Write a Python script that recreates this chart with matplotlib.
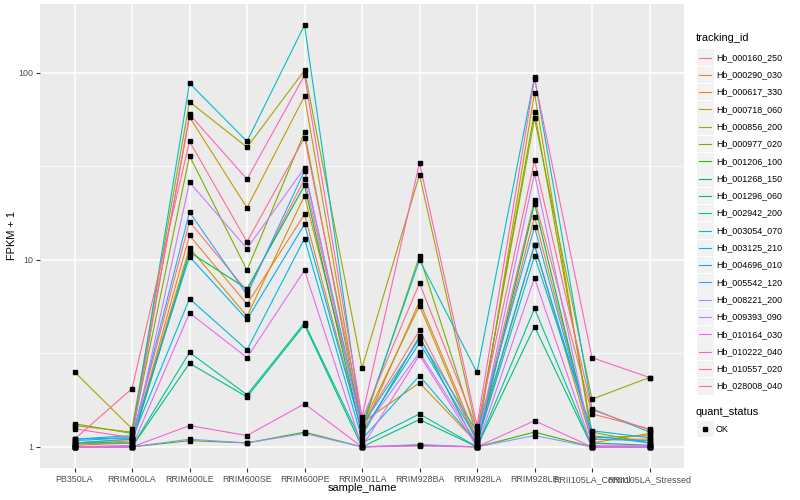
import numpy as np
import matplotlib
matplotlib.use("Agg")
import matplotlib.pyplot as plt
from matplotlib.lines import Line2D
from matplotlib.patches import Rectangle

plt.rcParams['font.family'] = ['Liberation Sans', 'DejaVu Sans']

samples = ["PB350LA", "RRIM600LA", "RRIM600LE", "RRIM600SE", "RRIM600PE",
           "RRIM901LA", "RRIM928BA", "RRIM928LA", "RRIM928LE",
           "RRII105LA_Control", "RRII105LA_Stressed"]

tracking_ids = ["Hb_000160_250", "Hb_000290_030", "Hb_000617_330", "Hb_000718_060",
                "Hb_000856_200", "Hb_000977_020", "Hb_001206_100", "Hb_001268_150",
                "Hb_001296_060", "Hb_002942_200", "Hb_003054_070", "Hb_003125_210",
                "Hb_004696_010", "Hb_005542_120", "Hb_008221_200", "Hb_009393_090",
                "Hb_010164_030", "Hb_010222_040", "Hb_010557_020", "Hb_028008_040"]

colors = ["#F8766D", "#EA8331", "#D89000", "#C09B00", "#A3A500", "#7CAE00", "#39B600",
          "#00BB4E", "#00BF7D", "#00C1A3", "#00BFC4", "#00BAE0", "#00B0F6", "#35A2FF",
          "#9590FF", "#C77CFF", "#E76BF3", "#FA62DB", "#FF62BC", "#FF6C91"]

# FPKM + 1 values, one list per tracking_id (order of samples above)
hb_000160_250 = [1.05, 1.10, 16.0, 6.8, 27.0, 1.30, 4.2, 1.10, 21.0, 1.50, 1.25]
hb_000290_030 = [1.02, 1.05, 13.5, 5.8, 17.5, 1.20, 6.0, 1.10, 17.0, 1.10, 1.10]
hb_000617_330 = [1.03, 1.08, 11.6, 5.0, 22.0, 1.35, 2.2, 1.05, 12.0, 1.05, 1.18]
hb_000718_060 = [1.30, 1.20, 58.0, 19.0, 75.0, 1.30, 5.7, 1.05, 78.0, 1.12, 1.15]
hb_000856_200 = [2.52, 1.25, 70.0, 40.0, 103.0, 2.65, 28.5, 1.20, 57.0, 1.80, 2.35]
hb_000977_020 = [1.33, 1.18, 36.0, 8.8, 48.0, 1.25, 10.5, 1.15, 62.0, 1.20, 1.05]
hb_001206_100 = [1.00, 1.00, 1.08, 1.05, 1.20, 1.00, 1.02, 1.00, 1.20, 1.00, 1.00]
hb_001268_150 = [1.05, 1.05, 11.0, 7.0, 25.0, 1.15, 3.9, 1.00, 20.0, 1.05, 1.02]
hb_001296_060 = [1.00, 1.00, 2.8, 1.85, 4.5, 1.00, 1.4, 1.00, 4.4, 1.00, 1.00]
hb_002942_200 = [1.00, 1.00, 3.2, 1.90, 4.6, 1.05, 1.5, 1.00, 5.5, 1.00, 1.00]
hb_003054_070 = [1.10, 1.15, 88.0, 43.0, 180.0, 1.30, 10.0, 2.50, 95.0, 1.60, 1.20]
hb_003125_210 = [1.05, 1.10, 6.2, 3.3, 13.0, 1.10, 2.4, 1.05, 10.5, 1.22, 1.12]
hb_004696_010 = [1.10, 1.12, 10.4, 4.8, 15.5, 1.20, 3.6, 1.10, 12.0, 1.15, 1.05]
hb_005542_120 = [1.08, 1.12, 18.0, 6.5, 30.0, 1.30, 3.8, 1.20, 15.0, 1.10, 1.08]
hb_008221_200 = [1.00, 1.00, 1.10, 1.05, 1.18, 1.00, 1.03, 1.00, 1.15, 1.00, 1.00]
hb_009393_090 = [1.00, 1.02, 26.0, 11.5, 31.0, 1.20, 3.2, 1.05, 29.0, 1.02, 1.02]
hb_010164_030 = [1.00, 1.00, 5.2, 3.0, 8.8, 1.00, 3.1, 1.00, 8.0, 1.00, 1.00]
hb_010222_040 = [1.00, 1.00, 1.30, 1.15, 1.70, 1.00, 1.01, 1.00, 1.38, 1.00, 1.00]
hb_010557_020 = [1.25, 1.12, 60.0, 27.0, 97.0, 1.45, 33.0, 1.30, 93.0, 3.00, 2.35]
hb_028008_040 = [1.10, 2.05, 43.0, 12.5, 45.0, 1.40, 7.5, 1.25, 34.0, 1.58, 1.23]

series = [hb_000160_250, hb_000290_030, hb_000617_330, hb_000718_060, hb_000856_200,
          hb_000977_020, hb_001206_100, hb_001268_150, hb_001296_060, hb_002942_200,
          hb_003054_070, hb_003125_210, hb_004696_010, hb_005542_120, hb_008221_200,
          hb_009393_090, hb_010164_030, hb_010222_040, hb_010557_020, hb_028008_040]

SMALL = 6.4   # ~8.8 px
TITLE = 7.9   # ~11 px

W, H = 800, 500
fig = plt.figure(figsize=(8, 5), dpi=100)
fig.patch.set_facecolor("white")
L, R, T, B = 40, 684, 4, 468
ax = fig.add_axes([L / W, 1 - B / H, (R - L) / W, (B - T) / H])
ax.set_facecolor("#EBEBEB")

x = np.arange(len(samples))
allv = np.array(series)
lo, hi = np.log10(allv.min()), np.log10(allv.max())
pad = 0.05 * (hi - lo)
ax.set_yscale("log")
ax.set_ylim(10 ** (lo - pad), 10 ** (hi + pad))
ax.set_xlim(-0.6, len(samples) - 1 + 0.6)

# grid
for v in [10 ** 0.5, 10 ** 1.5]:
    ax.axhline(v, color="white", lw=0.55, zorder=0)
for v in [1, 10, 100]:
    ax.axhline(v, color="white", lw=1.1, zorder=0.5)
for xi in x:
    ax.axvline(xi, color="white", lw=1.1, zorder=0.5)

for vals, c in zip(series, colors):
    ax.plot(x, vals, color=c, lw=0.8, zorder=2)
for vals in series:
    ax.plot(x, vals, ls="none", marker="s", ms=3.2, color="black", zorder=3)

ax.set_yticks([1, 10, 100])
ax.set_yticklabels(["1", "10", "100"])
ax.yaxis.set_minor_locator(matplotlib.ticker.NullLocator())
ax.set_xticks(x)
ax.set_xticklabels(samples)
ax.tick_params(axis="both", which="major", length=3, width=0.8, color="#333333",
               labelsize=SMALL, labelcolor="#4D4D4D", pad=2)
for s in ax.spines.values():
    s.set_visible(False)

fig.text((L + R) / 2 / W, 1 - 488 / H, "sample_name", fontsize=TITLE,
         ha="center", va="center")
fig.text(12 / W, 1 - (T + B) / 2 / H, "FPKM + 1", fontsize=TITLE,
         ha="center", va="center", rotation=90)

# legends drawn in pixel coordinates
lax = fig.add_axes([0, 0, 1, 1], facecolor="none")
lax.set_xlim(0, W)
lax.set_ylim(H, 0)
lax.axis("off")
lax.text(696, 38, "tracking_id", fontsize=TITLE, va="center", ha="left")
y0, dy = 57.5, 17.3
for i, (tid, c) in enumerate(zip(tracking_ids, colors)):
    yc = y0 + i * dy
    lax.add_patch(Rectangle((697, yc - 8.3), 16.6, 16.6, facecolor="#F2F2F2", edgecolor="none"))
    lax.add_line(Line2D([699, 711], [yc, yc], color=c, lw=0.8))
    lax.text(716, yc, tid, fontsize=SMALL, va="center", ha="left")
lax.text(696, 412, "quant_status", fontsize=TITLE, va="center", ha="left")
lax.add_patch(Rectangle((697, 429 - 8.3), 16.6, 16.6, facecolor="#F2F2F2", edgecolor="none"))
lax.add_line(Line2D([705], [429], ls="none", marker="s", ms=3.2, color="black"))
lax.text(716, 429, "OK", fontsize=SMALL, va="center", ha="left")

fig.savefig("out.png", dpi=100)
